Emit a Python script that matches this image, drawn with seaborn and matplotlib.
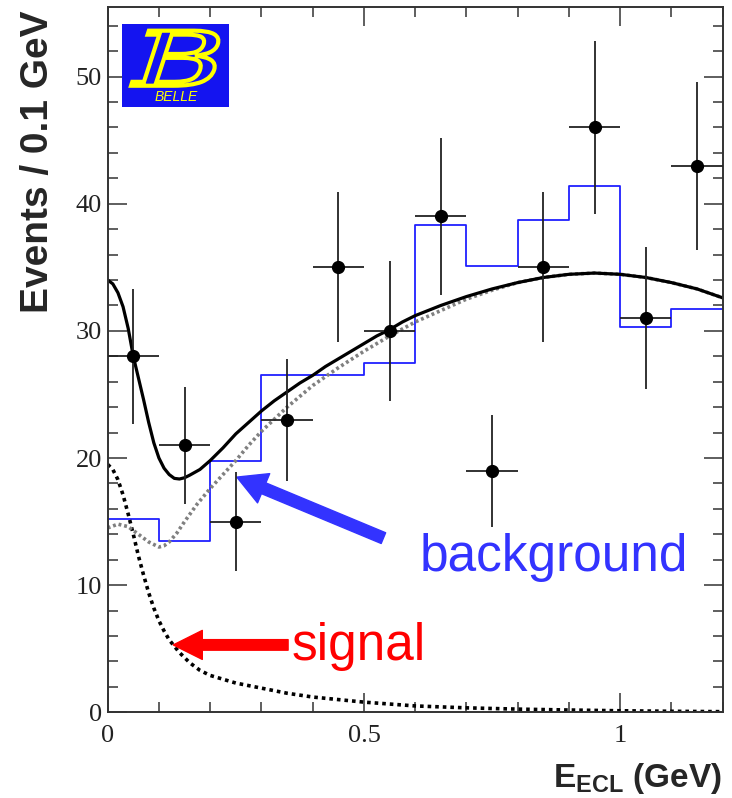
import numpy as np
import pandas as pd
import seaborn as sns
import matplotlib
matplotlib.use("Agg")
from matplotlib import pyplot as plt
from matplotlib.patches import Rectangle, PathPatch
from matplotlib.textpath import TextPath
from matplotlib.font_manager import FontProperties
from matplotlib.transforms import Affine2D
from matplotlib.ticker import MultipleLocator

# Data points (E_ECL bin centres, event counts, errors)
bin_centers = [0.05, 0.15, 0.25, 0.35, 0.45, 0.55, 0.65, 0.75, 0.85, 0.95, 1.05, 1.15]
events = [28, 21, 15, 23, 35, 30, 39, 19, 35, 46, 31, 43]
event_errs = [5.3, 4.6, 3.9, 4.8, 5.9, 5.5, 6.2, 4.4, 5.9, 6.8, 5.6, 6.6]
bin_half_width = 0.05

# Blue histogram (background expectation)
bin_edges = [0.0, 0.1, 0.2, 0.3, 0.4, 0.5, 0.6, 0.7, 0.8, 0.9, 1.0, 1.1, 1.2]
mc_background = [15.2, 13.5, 19.8, 26.5, 26.5, 27.5, 38.3, 35.1, 38.7, 41.4, 30.3, 31.7]

# Fit curves
total_x = [0.0, 0.01, 0.02, 0.03, 0.04, 0.05, 0.06, 0.07, 0.08, 0.09, 0.1, 0.11, 0.12,
           0.13, 0.14, 0.15, 0.16, 0.18, 0.2, 0.225, 0.25, 0.275, 0.3, 0.325, 0.35,
           0.375, 0.4, 0.425, 0.45, 0.475, 0.5, 0.525, 0.55, 0.575, 0.6, 0.65, 0.7,
           0.75, 0.8, 0.85, 0.9, 0.95, 1.0, 1.05, 1.1, 1.15, 1.2]
total_y = [34.0, 33.7, 33.0, 31.9, 30.2, 28.0, 26.3, 24.6, 22.8, 21.2, 20.0, 19.2, 18.7,
           18.4, 18.35, 18.45, 18.65, 19.1, 19.8, 20.8, 21.9, 22.8, 23.7, 24.5, 25.2,
           25.9, 26.5, 27.2, 27.8, 28.4, 29.0, 29.6, 30.1, 30.7, 31.2, 32.0, 32.7,
           33.3, 33.8, 34.2, 34.45, 34.55, 34.45, 34.2, 33.8, 33.3, 32.6]

bkg_x = [0.0, 0.02, 0.04, 0.06, 0.08, 0.1, 0.11, 0.12, 0.135, 0.15, 0.175, 0.2, 0.225,
         0.25, 0.275, 0.3, 0.35, 0.4, 0.45, 0.5, 0.55, 0.6, 0.65, 0.7, 0.75, 0.8, 0.85,
         0.9, 0.95, 1.0, 1.05, 1.1, 1.15, 1.2]
bkg_y = [14.5, 14.8, 14.6, 14.0, 13.4, 13.0, 13.1, 13.4, 14.1, 15.0, 16.4, 17.6, 18.7,
         19.8, 21.0, 22.1, 24.0, 25.7, 27.1, 28.4, 29.6, 30.7, 31.6, 32.5, 33.2, 33.8,
         34.2, 34.45, 34.55, 34.45, 34.2, 33.8, 33.3, 32.6]

sig_x = [0.0, 0.01, 0.02, 0.03, 0.04, 0.05, 0.06, 0.07, 0.08, 0.09, 0.1, 0.11, 0.12,
         0.14, 0.16, 0.18, 0.2, 0.25, 0.3, 0.35, 0.4, 0.5, 0.6, 0.7, 0.8, 0.9, 1.0,
         1.1, 1.2]
sig_y = [19.5, 19.1, 18.3, 17.1, 15.6, 14.0, 12.3, 10.8, 9.4, 8.2, 7.2, 6.4, 5.7,
         4.7, 3.9, 3.3, 2.9, 2.3, 1.9, 1.5, 1.2, 0.8, 0.5, 0.35, 0.25, 0.18, 0.12,
         0.08, 0.05]

sns.set_style("ticks")
plt.rcParams["font.family"] = ["Liberation Sans", "DejaVu Sans"]
plt.rcParams["mathtext.fontset"] = "custom"
plt.rcParams["mathtext.rm"] = "Liberation Sans"
plt.rcParams["mathtext.bf"] = "Liberation Sans:bold"

axis_color = "#333333"
blue = "#3333ff"
logo_blue = "#1414f0"

fig, ax = plt.subplots(figsize=(7.32, 7.98), dpi=100)
fig.subplots_adjust(left=0.1471, right=0.9873, bottom=0.1074, top=0.9916)

# background histogram
sns.histplot(x=bin_centers, weights=mc_background, bins=bin_edges, element="step",
             fill=False, color="#2020ff", linewidth=1.3, ax=ax)

# fit curves
sns.lineplot(x=sig_x, y=sig_y, color="black", linewidth=2.6, linestyle=(0, (1, 1.1)),
             sort=False, ax=ax)
sns.lineplot(x=bkg_x, y=bkg_y, color="#808080", linewidth=2.6, linestyle=(0, (0.8, 0.8)),
             sort=False, ax=ax)
sns.lineplot(x=total_x, y=total_y, color="black", linewidth=2.3, sort=False, ax=ax)

# data points
ax.errorbar(bin_centers, events, xerr=bin_half_width, yerr=event_errs, fmt="o",
            color="black", ecolor="#222222", markersize=8.5, elinewidth=1.3, capsize=0,
            zorder=5)

# annotations
ax.annotate("", xy=(0.252, 18.5), xytext=(0.538, 13.7),
            arrowprops=dict(arrowstyle="simple,head_length=0.55,head_width=0.6,tail_width=0.22",
                            color=blue, mutation_scale=38, shrinkA=0, shrinkB=0))
ax.text(0.609, 11.15, "background", color=blue, fontsize=37, va="baseline")
ax.annotate("", xy=(0.128, 5.3), xytext=(0.352, 5.3),
            arrowprops=dict(arrowstyle="simple,head_length=0.55,head_width=0.55,tail_width=0.2",
                            color="#ff0000", mutation_scale=38, shrinkA=0, shrinkB=0))
ax.text(0.359, 4.08, "signal", color="#ff0000", fontsize=37, va="baseline")

# Belle logo
ax.add_patch(Rectangle((0.0233, 0.858), 0.174, 0.1175, transform=ax.transAxes,
                       facecolor=logo_blue, edgecolor="none", zorder=6))
b_path = TextPath((0, 0), "B", size=1,
                  prop=FontProperties(family="DejaVu Serif", style="italic"))
ext = b_path.get_extents()
bx0, bx1, by0, by1 = 0.038, 0.180, 0.888, 0.966
b_tr = (Affine2D().translate(-ext.x0, -ext.y0)
        .scale((bx1 - bx0) / ext.width, (by1 - by0) / ext.height)
        .translate(bx0, by0) + ax.transAxes)
ax.add_patch(PathPatch(b_path, transform=b_tr, facecolor=logo_blue, edgecolor="#ffff00",
                       linewidth=3, zorder=7))
ax.text(0.112, 0.872, "BELLE", transform=ax.transAxes, ha="center", va="center",
        fontsize=10, style="italic", color="#ffff00", zorder=7)

# axes
ax.set_xlim(0, 1.2)
ax.set_ylim(0, 55.5)
ax.set_xticks([0, 0.5, 1])
ax.set_xticklabels(["0", "0.5", "1"])
ax.set_yticks([0, 10, 20, 30, 40, 50])
ax.xaxis.set_minor_locator(MultipleLocator(0.1))
ax.yaxis.set_minor_locator(MultipleLocator(2))
ax.set_xlabel("")
ax.set_ylabel("")
ax.tick_params(which="both", direction="in", top=True, right=True, color=axis_color,
               width=1.1, labelcolor="#222222")
ax.tick_params(which="major", length=14, labelsize=19)
ax.tick_params(which="minor", length=7.5)
ax.tick_params(axis="x", which="major", pad=9)
ax.tick_params(axis="y", which="major", pad=4)
for label in ax.get_xticklabels() + ax.get_yticklabels():
    label.set_fontfamily("Liberation Serif")
for spine in ax.spines.values():
    spine.set_visible(True)
    spine.set_linewidth(1.4)
    spine.set_color(axis_color)

fig.text(0.052, 0.797, "Events / 0.1 GeV", rotation=90, ha="center", va="center",
         fontsize=28, fontweight="bold")
fig.text(0.986, 0.0138, r"$\mathbf{E}_{\mathbf{ECL}}$ (GeV)", ha="right", va="baseline",
         fontsize=24, fontweight="bold")

plt.savefig("out.png", dpi=100)
